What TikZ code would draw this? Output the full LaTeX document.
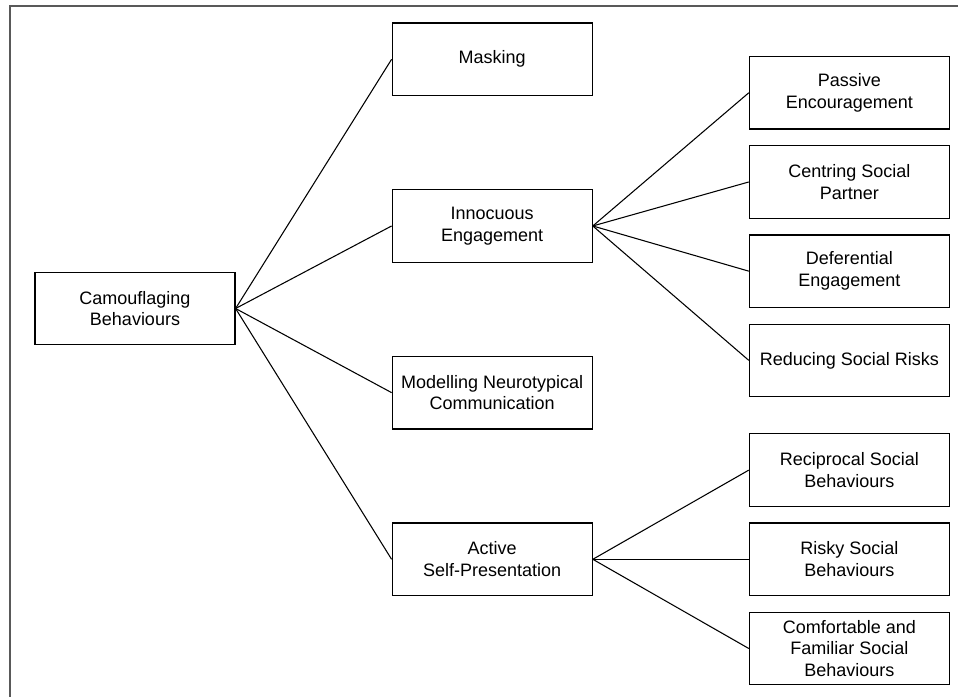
\documentclass[tikz,border=0pt]{standalone}
\usepackage{fontspec}
\setmainfont{Liberation Sans}
\usetikzlibrary{positioning}

\begin{document}
\begin{tikzpicture}[
		node distance=69.7pt and 117pt,
		box/.style={draw, line width=0.9pt, minimum width=150pt, minimum height=54.4pt, align=center, inner sep=2pt, font=\fontsize{13.5}{16.3}\selectfont},
		link/.style={line width=0.8pt}
	]

		% Page and frame
		\useasboundingbox (-101.25pt,231.375pt) rectangle (617.25pt,-291.375pt);
		\draw[gray!70!black, line width=0.8pt] (-93.75pt,-291.375pt) -- (-93.75pt,226.9pt) -- (617.25pt,226.9pt);

		% Nodes
		\node[box] (camo) at (0,0) {Camouflaging\\Behaviours};
		\node[box, right=of camo, yshift=61.9pt] (innoc) {Innocuous\\Engagement};
		\node[box, above=of innoc] (mask) {Masking};
		\node[box, below=of innoc] (model) {Modelling Neurotypical\\Communication};
		\node[box, below=of model] (active) {Active\\Self-Presentation};

		\node[box, right=of innoc, yshift=33pt] (centre) {Centring Social\\Partner};
		\node[box, above=11.6pt of centre] (passive) {Passive\\Encouragement};
		\node[box, below=11.6pt of centre] (defer) {Deferential\\Engagement};
		\node[box, below=11.6pt of defer] (reduce) {Reducing Social Risks};

		\node[box, right=of active] (risky) {Risky Social\\Behaviours};
		\node[box, above=11.6pt of risky] (recip) {Reciprocal Social\\Behaviours};
		\node[box, below=11.6pt of risky] (comfort) {Comfortable and\\Familiar Social\\Behaviours};

		% Links
		\draw[link] (camo.east) -- (mask.west);
		\draw[link] (camo.east) -- (innoc.west);
		\draw[link] (camo.east) -- (model.west);
		\draw[link] (camo.east) -- (active.west);
		\draw[link] (innoc.east) -- (passive.west);
		\draw[link] (innoc.east) -- (centre.west);
		\draw[link] (innoc.east) -- (defer.west);
		\draw[link] (innoc.east) -- (reduce.west);
		\draw[link] (active.east) -- (recip.west);
		\draw[link] (active.east) -- (risky.west);
		\draw[link] (active.east) -- (comfort.west);

	\end{tikzpicture}
\end{document}
